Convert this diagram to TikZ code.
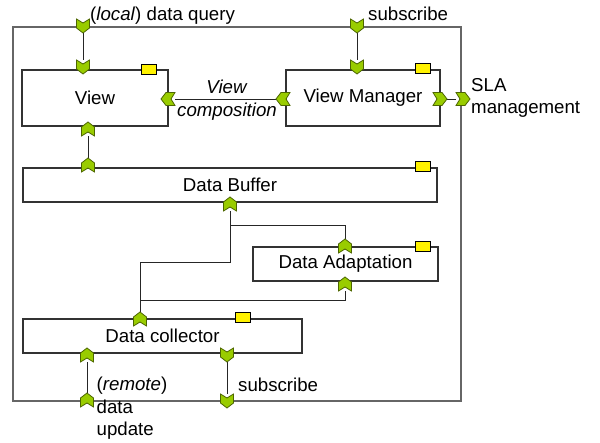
\documentclass[tikz,border=0pt]{standalone}
\usepackage{fontspec}
\setmainfont{Liberation Sans}
\pgfdeclarelayer{bg}
\pgfsetlayers{bg,main}
\definecolor{portgreen}{HTML}{99CC00}
\definecolor{portedge}{HTML}{4D6600}
\definecolor{boxline}{HTML}{333333}
\definecolor{outerline}{HTML}{666666}
\begin{document}
\begin{tikzpicture}[x=1pt,y=-1pt,
  every node/.style={font=\fontsize{18.67}{22.5}\selectfont, inner sep=0pt},
  box/.style={draw=boxline, line width=1.3pt, fill=white, rectangle},
  ybox/.style={draw=black, line width=0.8pt, fill=yellow, minimum width=15pt, minimum height=10pt},
  portfill/.style={draw=portedge, line width=0.8pt, fill=portgreen, line join=miter},
  port/.style={rectangle, draw=none, minimum width=14pt, minimum height=14pt},
  conn/.style={draw=black!85, line width=0.9pt},
  lbl/.style={align=left, anchor=west}]
\useasboundingbox (0,0) rectangle (600,443);
% outer component
\draw[draw=outerline, line width=2pt] (13,27) rectangle (461,401);
% inner components
\node[box, minimum width=146pt, minimum height=56pt] (view) at (95,98) {View};
\node[box, minimum width=154pt, minimum height=56pt] (vm) at (363,98) {View Manager};
\node[box, minimum width=414pt, minimum height=34pt] (db) at (230,185) {Data Buffer};
\node[box, minimum width=185pt, minimum height=34pt] (da) at (345.5,264) {Data Adaptation};
\node[box, minimum width=279pt, minimum height=34pt] (dc) at (162.5,336) {Data collector};
% yellow markers
\node[ybox] (yv) at (149,69) {};
\node[ybox] (yvm) at (423,68) {};
\node[ybox] (ydb) at (423,166) {};
\node[ybox] (yda) at (423,246) {};
\node[ybox] (ydc) at (243,317) {};
% ports
\node[port] (q0) at (83,26) {};
\node[port] (q1) at (83,67) {};
\node[port] (s0) at (357,26) {};
\node[port] (s1) at (357,67) {};
\node[port] (vb) at (88,129) {};
\node[port] (dbt) at (88,165) {};
\node[port] (vl) at (168,99) {};
\node[port] (vml) at (283,99) {};
\node[port] (vmr) at (440,99) {};
\node[port] (sla) at (463,99) {};
\node[port] (dbb) at (230,204) {};
\node[port] (dat) at (345,246) {};
\node[port] (dab) at (345,284) {};
\node[port] (dct) at (140,319) {};
\node[port] (dcb1) at (87,355) {};
\node[port] (dcb2) at (227,355) {};
\node[port] (rb1) at (87,400) {};
\node[port] (rb2) at (227,401) {};
% port glyphs
\foreach \n in {q0,q1,s0,s1,dcb2,rb2}
  \filldraw[portfill, shift={(\n.center)}]
    (-6.5pt,7pt) -- (0pt,3pt) -- (6.5pt,7pt) -- (6.5pt,-2pt) -- (0pt,-7pt) -- (-6.5pt,-2pt) -- cycle;
\foreach \n in {vb,dbt,dbb,dat,dab,dct,dcb1,rb1}
  \filldraw[portfill, shift={(\n.center)}]
    (-6.5pt,-7pt) -- (0pt,-3pt) -- (6.5pt,-7pt) -- (6.5pt,2pt) -- (0pt,7pt) -- (-6.5pt,2pt) -- cycle;
\foreach \n in {vl,vml}
  \filldraw[portfill, shift={(\n.center)}]
    (7pt,6.5pt) -- (3pt,0pt) -- (7pt,-6.5pt) -- (-2pt,-6.5pt) -- (-7pt,0pt) -- (-2pt,6.5pt) -- cycle;
\foreach \n in {vmr,sla}
  \filldraw[portfill, shift={(\n.center)}]
    (-7pt,6.5pt) -- (-3pt,0pt) -- (-7pt,-6.5pt) -- (2pt,-6.5pt) -- (7pt,0pt) -- (2pt,6.5pt) -- cycle;
\coordinate (br) at (230,225);
\coordinate (bl) at (230,262);
\coordinate (am) at (345,300);
% connectors
\begin{pgfonlayer}{bg}
\draw[conn] (q0) -- (q1);
\draw[conn] (s0) -- (s1);
\draw[conn] (vb) -- (dbt);
\draw[conn] (vl) -- (vml);
\draw[conn] (vmr) -- (sla);
\draw[conn] (dbb) -- (br) -| (dat);
\draw[conn] (br) -- (bl) -| (dct);
\draw[conn] (dab) |- (am) -| (dct);
\draw[conn] (dcb1) -- (rb1);
\draw[conn] (dcb2) -- (rb2);
\end{pgfonlayer}
% labels
\node[anchor=base west] (lq) at (90,20.5) {(\textit{local}) data query};
\node[anchor=base west] (ls) at (368,20.5) {subscribe};
\node[align=center] (lvc) at (227,100) {\textit{View}\\\textit{composition}};
\node[lbl] (lsla) at (471,97.7) {SLA\\management};
\node[lbl] (lrem) at (96.5,408.6) {(\textit{remote})\\data\\update};
\node[anchor=base west] (lsub) at (238,392) {subscribe};
\end{tikzpicture}
\end{document}
